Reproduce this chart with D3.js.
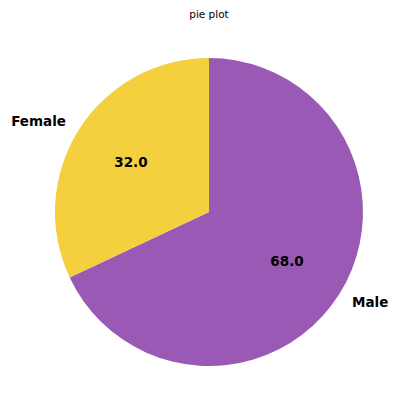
<!DOCTYPE html>
<html>
<head>
<meta charset="utf-8">
<script src="https://cdn.jsdelivr.net/npm/d3@7"></script>
<style>
  body { margin: 0; background: #fff; }
  text { font-family: "DejaVu Sans", sans-serif; }
</style>
</head>
<body>
<div id="chart"></div>
<script>
// data
const labels = ["Male", "Female"];
const values = [68, 32];
const colors = ["#9b59b6", "#f4d03f"];

const width = 412, height = 415;
const cx = 209, cy = 212, radius = 154;

const svg = d3.select("#chart").append("svg")
    .attr("width", width)
    .attr("height", height);

svg.append("text")
    .attr("x", cx)
    .attr("y", 18)
    .attr("text-anchor", "middle")
    .attr("font-size", "10.5px")
    .attr("fill", "#000")
    .text("pie plot");

const g = svg.append("g")
    .attr("transform", "translate(" + cx + "," + cy + ")");

// start at top, Male goes clockwise (matplotlib counterclock from Female)
const pie = d3.pie().sort(null).value(function (d) { return d.value; });
const data = labels.map(function (l, i) { return {label: l, value: values[i], color: colors[i]}; });
const arcs = pie(data);

const arc = d3.arc().innerRadius(0).outerRadius(radius);

g.selectAll("path")
    .data(arcs)
    .enter()
    .append("path")
    .attr("d", arc)
    .attr("fill", function (d) { return d.data.color; });

const total = d3.sum(values);

function pos(d, r) {
    const a = (d.startAngle + d.endAngle) / 2;
    return [Math.sin(a) * r, -Math.cos(a) * r];
}

// percentage labels
g.selectAll(".pct")
    .data(arcs)
    .enter()
    .append("text")
    .attr("class", "pct")
    .attr("x", function (d) { return pos(d, radius * 0.6)[0]; })
    .attr("y", function (d) { return pos(d, radius * 0.6)[1]; })
    .attr("dy", "0.35em")
    .attr("text-anchor", "middle")
    .attr("font-size", "13.5px")
    .attr("font-weight", "bold")
    .text(function (d) { return (d.data.value / total * 100).toFixed(1); });

// category labels
g.selectAll(".lbl")
    .data(arcs)
    .enter()
    .append("text")
    .attr("class", "lbl")
    .attr("x", function (d) { return pos(d, radius * 1.1)[0]; })
    .attr("y", function (d) { return pos(d, radius * 1.1)[1]; })
    .attr("dy", "0.35em")
    .attr("text-anchor", function (d) { return pos(d, 1)[0] < 0 ? "end" : "start"; })
    .attr("font-size", "13.5px")
    .attr("font-weight", "bold")
    .text(function (d) { return d.data.label; });
</script>
</body>
</html>
